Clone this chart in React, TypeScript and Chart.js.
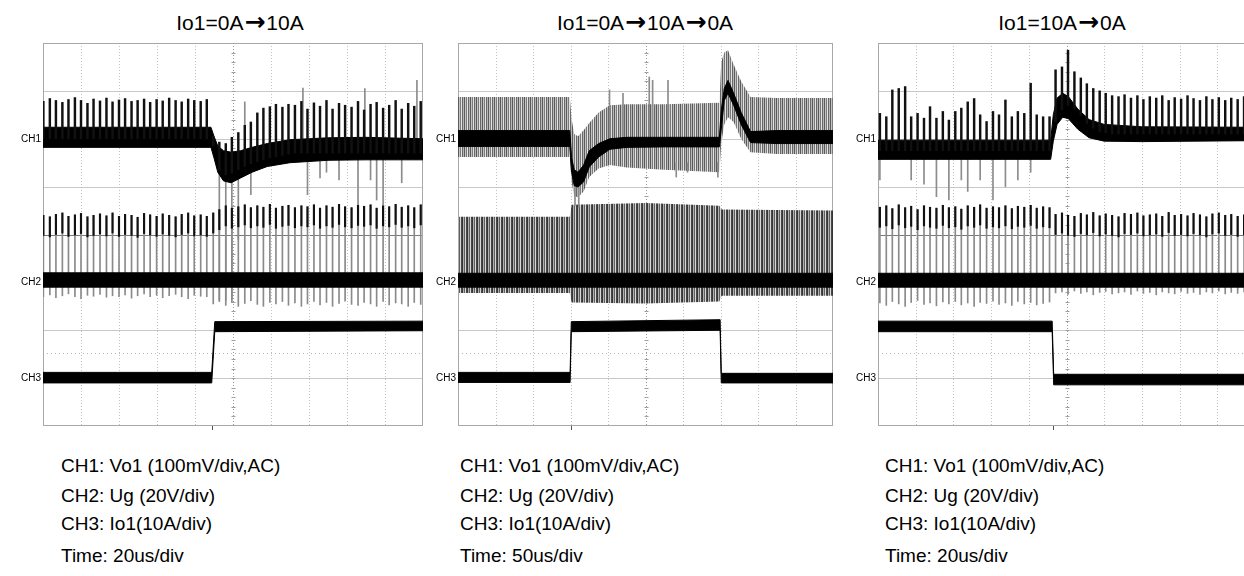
import React, { useEffect, useRef } from "react";
import { Chart, registerables } from "chart.js";

Chart.register(...registerables);

// ================= TEXT =================
const PANEL_TITLES = [["Io1=0A", "10A"], ["Io1=0A", "10A", "0A"], ["Io1=10A", "0A"]];
const CHANNEL_LABELS = ["CH1", "CH2", "CH3"];
const CHANNEL_ZERO_DIV = [6, 3, 1];
const CAPTION_LINES = ["CH1: Vo1 (100mV/div,AC)", "CH2: Ug (20V/div)", "CH3: Io1(10A/div)"];
const TIME_LINES = ["Time: 20us/div", "Time: 50us/div", "Time: 20us/div"];
const TRIGGER_X = [4.45, 3.0, 4.64];
const REF_LEVEL = 1.52;

// ================= PANEL 1 : 0A -> 10A (20us/div) =================
const P1_SWITCH_X = [
  0.01, 0.18, 0.34, 0.51, 0.67, 0.84, 1.0, 1.17, 1.33, 1.5,
  1.67, 1.83, 2.0, 2.16, 2.33, 2.49, 2.66, 2.82, 2.99, 3.15,
  3.32, 3.49, 3.65, 3.82, 3.98, 4.15, 4.31, 4.48, 4.64, 4.81,
  4.97, 5.14, 5.31, 5.47, 5.64, 5.8, 5.97, 6.13, 6.3, 6.46,
  6.63, 6.8, 6.96, 7.13, 7.29, 7.46, 7.62, 7.79, 7.95, 8.12,
  8.29, 8.45, 8.62, 8.78, 8.95, 9.11, 9.28, 9.44, 9.61, 9.77,
  9.94,
];
const P1_CH1_TOP = [
  6.78, 6.84, 6.8, 6.76, 6.82, 6.86, 6.8, 6.74, 6.83, 6.79,
  6.85, 6.77, 6.81, 6.84, 6.78, 6.8, 6.83, 6.76, 6.82, 6.79,
  6.85, 6.8, 6.77, 6.83, 6.8, 6.78, 6.82, 6.05, 5.93, 5.9,
  6.03, 6.13, 6.28, 6.35, 6.54, 6.64, 6.67, 6.72, 6.66, 6.72,
  6.7, 6.78, 6.62, 6.75, 6.68, 6.8, 6.62, 6.74, 6.7, 6.66,
  6.78, 6.6, 6.72, 6.76, 6.64, 6.7, 6.8, 6.62, 6.74, 6.68,
  6.78,
];
const P1_CH1_BASE = [
  6.0, 6.0, 6.0, 6.0, 6.0, 6.0, 6.0, 6.0, 6.0, 6.0,
  6.0, 6.0, 6.0, 6.0, 6.0, 6.0, 6.0, 6.0, 6.0, 6.0,
  6.0, 6.0, 6.0, 6.0, 6.0, 6.0, 6.0, 5.85, 5.35, 5.25,
  5.28, 5.35, 5.42, 5.48, 5.52, 5.56, 5.6, 5.62, 5.65, 5.68,
  5.7, 5.7, 5.7, 5.7, 5.7, 5.7, 5.7, 5.7, 5.7, 5.7,
  5.7, 5.7, 5.7, 5.7, 5.7, 5.7, 5.7, 5.7, 5.7, 5.7,
  5.7,
];
const P1_CH2_TOP = [
  4.4, 4.37, 4.42, 4.45, 4.38, 4.41, 4.44, 4.37, 4.4, 4.43,
  4.39, 4.45, 4.38, 4.42, 4.4, 4.36, 4.44, 4.41, 4.38, 4.43,
  4.4, 4.37, 4.42, 4.45, 4.39, 4.41, 4.38, 4.45, 4.52, 4.6,
  4.55, 4.58, 4.62, 4.56, 4.6, 4.57, 4.63, 4.55, 4.59, 4.61,
  4.56, 4.6, 4.58, 4.62, 4.55, 4.6, 4.57, 4.63, 4.58, 4.56,
  4.61, 4.59, 4.62, 4.55, 4.6, 4.58, 4.63, 4.57, 4.6, 4.56,
  4.62,
];
const P1_CH2_LOW = [
  2.7, 2.74, 2.68, 2.72, 2.76, 2.7, 2.66, 2.73, 2.71, 2.75,
  2.69, 2.72, 2.7, 2.74, 2.67, 2.72, 2.76, 2.7, 2.73, 2.68,
  2.72, 2.75, 2.7, 2.66, 2.73, 2.71, 2.7, 2.55, 2.6, 2.52,
  2.58, 2.5, 2.56, 2.62, 2.54, 2.5, 2.58, 2.55, 2.6, 2.52,
  2.57, 2.5, 2.55, 2.6, 2.53, 2.58, 2.5, 2.56, 2.61, 2.54,
  2.52, 2.58, 2.55, 2.5, 2.6, 2.53, 2.57, 2.55, 2.5, 2.58,
  2.54,
];
const P1_CH1_BAND_X = [0, 4.42, 4.5, 4.6, 4.75, 4.95, 5.2, 5.5, 5.9, 6.5, 7.5, 8.5, 10];
const P1_CH1_BAND_HI = [6.24, 6.24, 6.05, 5.85, 5.75, 5.72, 5.75, 5.82, 5.9, 5.98, 6.02, 6.03, 6.0];
const P1_CH1_BAND_LO = [5.82, 5.82, 5.6, 5.3, 5.12, 5.08, 5.18, 5.3, 5.42, 5.5, 5.55, 5.56, 5.56];
const P1_CH2_BAND_X = [0, 10];
const P1_CH2_BAND_HI = [3.2, 3.2];
const P1_CH2_BAND_LO = [2.9, 2.9];
const P1_CH3_BAND_X = [0, 4.44, 4.52, 10];
const P1_CH3_BAND_HI = [1.12, 1.12, 2.18, 2.19];
const P1_CH3_BAND_LO = [0.9, 0.9, 1.97, 1.99];
const P1_GRAY_LINES = [
  [4.64, 2.63, 5.3], [4.81, 2.63, 5.2], [4.97, 2.65, 5.3], [5.14, 3.9, 5.4],
  [5.31, 5.6, 6.77], [5.47, 4.83, 5.5], [6.84, 6.0, 7.06], [6.96, 4.83, 5.6],
  [7.29, 5.18, 5.6], [7.46, 5.3, 5.6], [7.79, 5.14, 5.6], [8.29, 4.62, 5.6],
  [8.47, 6.0, 7.05], [8.62, 5.14, 5.6], [8.78, 4.72, 5.6], [8.95, 4.62, 5.6],
  [9.44, 5.08, 5.6], [9.84, 6.0, 7.22],
];

// ================= PANEL 2 : 0A -> 10A -> 0A (50us/div) =================
const P2_CH1_X = [0, 2.98, 3.03, 3.1, 3.2, 3.35, 3.5, 3.75, 4.05, 4.5, 5.5, 6.97, 7.02, 7.1, 7.2, 7.35, 7.55, 7.8, 8.5, 10];
const P2_CH1_HI = [6.17, 6.17, 5.6, 5.35, 5.3, 5.45, 5.75, 5.9, 6.0, 6.03, 6.03, 6.03, 6.6, 7.05, 7.22, 6.95, 6.55, 6.15, 6.17, 6.17];
const P2_CH1_LO = [5.84, 5.84, 5.3, 5.02, 4.99, 5.1, 5.41, 5.62, 5.78, 5.82, 5.83, 5.83, 6.2, 6.8, 6.95, 6.7, 6.3, 5.92, 5.9, 5.9];
const P2_CH1_ENV_HI = [6.87, 6.87, 6.4, 6.1, 6.05, 6.18, 6.33, 6.55, 6.7, 6.72, 6.72, 6.75, 7.6, 7.8, 7.85, 7.55, 7.2, 6.87, 6.85, 6.85];
const P2_CH1_ENV_LO = [5.62, 5.62, 5.1, 4.8, 4.78, 4.9, 5.2, 5.38, 5.45, 5.4, 5.35, 5.3, 5.9, 6.3, 6.45, 6.35, 6.0, 5.72, 5.68, 5.68];
const P2_CH2_X = [0, 2.98, 3.03, 5.0, 6.97, 7.03, 10];
const P2_CH2_ENV_HI = [4.37, 4.37, 4.62, 4.66, 4.6, 4.52, 4.5];
const P2_CH2_ENV_LO = [2.78, 2.78, 2.58, 2.56, 2.6, 2.72, 2.72];
const P2_CH2_BAND_X = [0, 10];
const P2_CH2_BAND_HI = [3.19, 3.19];
const P2_CH2_BAND_LO = [2.9, 2.9];
const P2_CH3_X = [0, 2.99, 3.02, 6.99, 7.02, 10];
const P2_CH3_HI = [1.12, 1.12, 2.18, 2.22, 1.1, 1.1];
const P2_CH3_LO = [0.91, 0.91, 1.97, 2.0, 0.9, 0.9];
const P2_GRAY_LINES = [
  [3.12, 4.6, 5.0], [3.22, 4.57, 5.0], [4.04, 6.0, 7.02], [4.4, 6.0, 6.95],
  [5.1, 6.0, 7.29], [5.19, 6.0, 7.22], [5.6, 6.0, 7.22], [5.82, 5.2, 5.5],
  [6.12, 5.3, 5.5], [6.93, 5.2, 5.5],
];

// ================= PANEL 3 : 10A -> 0A (20us/div) =================
const P3_SWITCH_X = [
  0.05, 0.22, 0.38, 0.55, 0.72, 0.88, 1.05, 1.22, 1.38, 1.55,
  1.72, 1.88, 2.05, 2.21, 2.38, 2.55, 2.71, 2.88, 3.05, 3.21,
  3.38, 3.55, 3.71, 3.88, 4.05, 4.21, 4.38, 4.55, 4.71, 4.88,
  5.04, 5.21, 5.38, 5.54, 5.71, 5.88, 6.04, 6.21, 6.38, 6.54,
  6.71, 6.88, 7.04, 7.21, 7.38, 7.54, 7.71, 7.87, 8.04, 8.21,
  8.37, 8.54, 8.71, 8.87, 9.04, 9.21, 9.37, 9.54, 9.71,
];
const P3_CH1_TOP = [
  6.53, 6.46, 7.02, 7.05, 7.09, 6.46, 6.53, 6.43, 6.67, 6.43,
  6.57, 6.39, 6.57, 6.64, 6.77, 6.84, 6.5, 6.36, 6.57, 6.5,
  6.81, 6.46, 6.57, 6.53, 7.16, 6.5, 6.46, 6.46, 7.44, 7.5,
  7.85, 7.4, 7.27, 7.15, 7.05, 7.0, 6.95, 6.9, 6.88, 6.92,
  6.85, 6.9, 6.82, 6.88, 6.85, 6.9, 6.8, 6.86, 6.83, 6.9,
  6.84, 6.8, 6.88, 6.82, 6.86, 6.8, 6.85, 6.82, 6.88,
];
const P3_CH1_BASE = [
  5.75, 5.75, 5.75, 5.75, 5.75, 5.75, 5.75, 5.75, 5.75, 5.75,
  5.75, 5.75, 5.75, 5.75, 5.75, 5.75, 5.75, 5.75, 5.75, 5.75,
  5.75, 5.75, 5.75, 5.75, 5.75, 5.75, 5.75, 5.75, 6.35, 6.6,
  6.7, 6.62, 6.48, 6.32, 6.22, 6.15, 6.12, 6.1, 6.1, 6.1,
  6.1, 6.1, 6.1, 6.1, 6.1, 6.1, 6.1, 6.1, 6.1, 6.1,
  6.1, 6.1, 6.1, 6.1, 6.1, 6.1, 6.1, 6.1, 6.1,
];
const P3_CH2_TOP = [
  4.57, 4.6, 4.54, 4.62, 4.56, 4.59, 4.52, 4.6, 4.57, 4.55,
  4.61, 4.56, 4.58, 4.53, 4.6, 4.57, 4.62, 4.55, 4.58, 4.56,
  4.6, 4.54, 4.59, 4.57, 4.61, 4.55, 4.58, 4.56, 4.42, 4.45,
  4.4, 4.38, 4.44, 4.41, 4.46, 4.39, 4.43, 4.4, 4.37, 4.44,
  4.42, 4.45, 4.39, 4.41, 4.43, 4.38, 4.46, 4.4, 4.42, 4.39,
  4.44, 4.41, 4.37, 4.43, 4.45, 4.4, 4.42, 4.38, 4.41,
];
const P3_CH2_LOW = [
  2.57, 2.52, 2.6, 2.55, 2.5, 2.58, 2.62, 2.54, 2.57, 2.51,
  2.59, 2.55, 2.6, 2.53, 2.57, 2.5, 2.58, 2.56, 2.61, 2.54,
  2.57, 2.52, 2.6, 2.55, 2.58, 2.53, 2.56, 2.59, 2.78, 2.8,
  2.75, 2.82, 2.77, 2.8, 2.74, 2.79, 2.81, 2.76, 2.78, 2.8,
  2.75, 2.82, 2.77, 2.79, 2.74, 2.8, 2.78, 2.76, 2.81, 2.77,
  2.79, 2.75, 2.8, 2.78, 2.82, 2.76, 2.79, 2.77, 2.8,
];
const P3_CH1_BAND_X = [0, 4.58, 4.65, 4.75, 4.9, 5.05, 5.3, 5.6, 6.0, 7.0, 10];
const P3_CH1_BAND_HI = [5.97, 5.97, 6.5, 6.85, 6.95, 6.88, 6.62, 6.4, 6.3, 6.25, 6.24];
const P3_CH1_BAND_LO = [5.57, 5.57, 5.95, 6.3, 6.45, 6.42, 6.2, 6.02, 5.95, 5.94, 5.96];
const P3_CH2_BAND_X = [0, 10];
const P3_CH2_BAND_HI = [3.19, 3.19];
const P3_CH2_BAND_LO = [2.9, 2.9];
const P3_CH3_BAND_X = [0, 4.62, 4.66, 10];
const P3_CH3_BAND_HI = [2.19, 2.19, 1.08, 1.08];
const P3_CH3_BAND_LO = [1.97, 1.97, 0.86, 0.86];
const P3_GRAY_LINES = [
  [0.05, 5.14, 5.7], [0.88, 5.14, 5.7], [1.22, 5.05, 5.7], [1.55, 4.79, 5.7],
  [1.88, 4.72, 5.7], [2.21, 5.14, 5.7], [2.38, 4.9, 5.7], [2.71, 5.14, 5.7],
  [3.05, 4.72, 5.7], [3.38, 5.0, 5.7], [3.71, 5.14, 5.7], [4.05, 5.3, 5.7],
];

// ================= LAYOUT (pixels) =================
const AREA_TOP = 43;
const AREA_H = 383;
const PANEL_LEFT = [43, 458, 878];
const PANEL_W = [380, 375, 377];
const TITLE_CX = [240, 645, 1062];
const CAPTION_LEFT = [61, 460, 885];
const CAPTION_Y = [466, 496, 524, 556];
const PAD = 6;
const GATE_CAP = 0.42;

type Band = { x: number[]; hi: number[]; lo: number[]; style: "black" | "hatchA" | "hatchB" };
type Spec = {
  bands: Band[];
  sw?: { x: number[]; ch1Top: number[]; ch1Base: number[]; ch2Top: number[]; ch2Low: number[] };
  gray: number[][];
  trigger: number;
};

const SPECS: Spec[] = [
  {
    bands: [
      { x: P1_CH1_BAND_X, hi: P1_CH1_BAND_HI, lo: P1_CH1_BAND_LO, style: "black" },
      { x: P1_CH2_BAND_X, hi: P1_CH2_BAND_HI, lo: P1_CH2_BAND_LO, style: "black" },
      { x: P1_CH3_BAND_X, hi: P1_CH3_BAND_HI, lo: P1_CH3_BAND_LO, style: "black" },
    ],
    sw: { x: P1_SWITCH_X, ch1Top: P1_CH1_TOP, ch1Base: P1_CH1_BASE, ch2Top: P1_CH2_TOP, ch2Low: P1_CH2_LOW },
    gray: P1_GRAY_LINES,
    trigger: TRIGGER_X[0],
  },
  {
    bands: [
      { x: P2_CH1_X, hi: P2_CH1_ENV_HI, lo: P2_CH1_ENV_LO, style: "hatchA" },
      { x: P2_CH2_X, hi: P2_CH2_ENV_HI, lo: P2_CH2_ENV_LO, style: "hatchB" },
      { x: P2_CH1_X, hi: P2_CH1_HI, lo: P2_CH1_LO, style: "black" },
      { x: P2_CH2_BAND_X, hi: P2_CH2_BAND_HI, lo: P2_CH2_BAND_LO, style: "black" },
      { x: P2_CH3_X, hi: P2_CH3_HI, lo: P2_CH3_LO, style: "black" },
    ],
    gray: P2_GRAY_LINES,
    trigger: TRIGGER_X[1],
  },
  {
    bands: [
      { x: P3_CH1_BAND_X, hi: P3_CH1_BAND_HI, lo: P3_CH1_BAND_LO, style: "black" },
      { x: P3_CH2_BAND_X, hi: P3_CH2_BAND_HI, lo: P3_CH2_BAND_LO, style: "black" },
      { x: P3_CH3_BAND_X, hi: P3_CH3_BAND_HI, lo: P3_CH3_BAND_LO, style: "black" },
    ],
    sw: { x: P3_SWITCH_X, ch1Top: P3_CH1_TOP, ch1Base: P3_CH1_BASE, ch2Top: P3_CH2_TOP, ch2Low: P3_CH2_LOW },
    gray: P3_GRAY_LINES,
    trigger: TRIGGER_X[2],
  },
];

function makePattern(cols: string[]) {
  const c = document.createElement("canvas");
  c.width = cols.length;
  c.height = 1;
  const g = c.getContext("2d")!;
  cols.forEach((col, i) => {
    g.fillStyle = col;
    g.fillRect(i, 0, 1, 1);
  });
  return g.createPattern(c, "repeat")!;
}

const scopeGrid = {
  id: "scopeGrid",
  beforeDatasetsDraw(chart: any, _args: any, opts: any) {
    const { ctx, chartArea: a } = chart;
    const xs = chart.scales.x;
    const ys = chart.scales.y;
    const X = (v: number) => Math.round(xs.getPixelForValue(v)) + 0.5;
    const Y = (v: number) => Math.round(ys.getPixelForValue(v)) + 0.5;
    ctx.save();
    ctx.lineWidth = 1;
    ctx.setLineDash([]);
    for (let j = 1; j < 8; j++) {
      ctx.strokeStyle = j === 4 ? "#7a7a7a" : "#c8c8c8";
      ctx.beginPath();
      ctx.moveTo(a.left, Y(j));
      ctx.lineTo(a.right, Y(j));
      ctx.stroke();
    }
    ctx.setLineDash([1, 2]);
    for (let i = 1; i < 10; i++) {
      ctx.strokeStyle = i === 5 ? "#999999" : "#c2c2c2";
      ctx.beginPath();
      ctx.moveTo(X(i), a.top);
      ctx.lineTo(X(i), a.bottom);
      ctx.stroke();
    }
    ctx.setLineDash([1, 3]);
    ctx.strokeStyle = "#b4b4b4";
    ctx.beginPath();
    ctx.moveTo(a.left, Y(REF_LEVEL));
    ctx.lineTo(a.right, Y(REF_LEVEL));
    ctx.stroke();
    ctx.setLineDash([]);
    ctx.strokeStyle = "#a0a0a0";
    for (let t = 1; t < 40; t++) {
      const py = Y(t * 0.2);
      ctx.beginPath();
      ctx.moveTo(X(5) - 2, py);
      ctx.lineTo(X(5) + 2, py);
      ctx.stroke();
    }
    ctx.strokeStyle = "#a8a8a8";
    const l = Math.round(a.left) + 0.5;
    const t0 = Math.round(a.top) + 0.5;
    ctx.strokeRect(l, t0, Math.round(a.right) - Math.round(a.left) - 1, Math.round(a.bottom) - Math.round(a.top) - 1);
    ctx.strokeStyle = "#555555";
    ctx.beginPath();
    ctx.moveTo(X(opts.trigger), a.bottom);
    ctx.lineTo(X(opts.trigger), a.bottom + 4);
    ctx.stroke();
    ctx.restore();
  },
};

function finite(v: any) {
  return v.y.every((n: number) => Number.isFinite(n)) && Number.isFinite(v.x);
}

function buildDatasets(spec: Spec, patterns: Record<string, any>) {
  const ds: any[] = [];
  let order = 300;
  spec.bands.forEach((b) => {
    const isBlack = b.style === "black";
    const fillColor = isBlack ? "#000000" : patterns[b.style];
    // higher order = drawn earlier (behind): hatch envelopes go behind black cores
    const base = isBlack ? 0 : 200;
    ds.push({
      type: "line",
      data: b.x.map((x, i) => ({ x, y: b.lo[i] })),
      borderColor: isBlack ? "#000000" : "rgba(0,0,0,0)",
      borderWidth: 1,
      pointRadius: 0,
      fill: false,
      order: order + base,
    });
    ds.push({
      type: "line",
      data: b.x.map((x, i) => ({ x, y: b.hi[i] })),
      borderColor: isBlack ? "#000000" : "rgba(0,0,0,0)",
      borderWidth: 1,
      pointRadius: 0,
      fill: "-1",
      backgroundColor: fillColor,
      order: order + base - 1,
    });
    order -= 2;
  });
  const bar = (data: any[], color: string, thickness: number, ord: number) => ({
    type: "bar",
    data: data.filter(finite),
    backgroundColor: color,
    borderWidth: 0,
    barThickness: thickness,
    grouped: false,
    order: ord,
  });
  ds.push(bar(spec.gray.map(([x, lo, hi]) => ({ x, y: [lo, hi] })), "#8c8c8c", 1, 450));
  if (spec.sw) {
    const s = spec.sw;
    ds.push(bar(s.x.map((x, i) => ({ x, y: [s.ch2Low[i], s.ch2Top[i]] })), "#8a8a8a", 1, 440));
    ds.push(bar(s.x.map((x, i) => ({ x, y: [s.ch2Top[i] - GATE_CAP, s.ch2Top[i]] })), "#111111", 1.5, 10));
    ds.push(bar(s.x.map((x, i) => ({ x, y: [s.ch1Base[i], s.ch1Top[i]] })), "#111111", 1.8, 11));
  }
  return ds;
}

function Title({ parts }: { parts: string[] }) {
  const out: React.ReactNode[] = [];
  parts.forEach((p, i) => {
    if (i > 0)
      out.push(
        <span
          key={"a" + i}
          style={{ fontFamily: '"DejaVu Sans", sans-serif', fontWeight: "bold", fontSize: 25, lineHeight: "24px", margin: "0 1px" }}
        >
          →
        </span>
      );
    out.push(<span key={"t" + i}>{p}</span>);
  });
  return <>{out}</>;
}

function ScopePanel({ idx }: { idx: number }) {
  const ref = useRef<HTMLCanvasElement>(null);
  const w = PANEL_W[idx] + PAD * 2;
  const h = AREA_H + PAD * 2;
  useEffect(() => {
    const canvas = ref.current!;
    const patterns = {
      hatchA: makePattern(["#5a5a5a", "#c4c4c4", "#7a7a7a", "#e2e2e2", "#686868", "#b8b8b8"]),
      hatchB: makePattern(["#363636", "#b0b0b0", "#5e5e5e", "#d8d8d8", "#484848"]),
    };
    const chart = new Chart(canvas, {
      type: "line",
      data: { datasets: buildDatasets(SPECS[idx], patterns) },
      options: {
        animation: false,
        responsive: false,
        maintainAspectRatio: false,
        events: [],
        layout: { padding: PAD },
        plugins: {
          legend: { display: false },
          tooltip: { enabled: false },
          scopeGrid: { trigger: SPECS[idx].trigger },
        } as any,
        scales: {
          x: { type: "linear", min: 0, max: 10, display: false, offset: false },
          y: { type: "linear", min: 0, max: 8, display: false },
        },
        elements: { point: { radius: 0 }, line: { tension: 0 } },
      },
      plugins: [scopeGrid as any],
    });
    return () => chart.destroy();
  }, [idx]);

  const left = PANEL_LEFT[idx];
  const divH = AREA_H / 8;
  return (
    <>
      <canvas
        ref={ref}
        width={w}
        height={h}
        style={{ position: "absolute", left: left - PAD, top: AREA_TOP - PAD, width: w, height: h }}
      />
      <div
        style={{
          position: "absolute",
          left: TITLE_CX[idx] - 160,
          width: 320,
          top: 10,
          textAlign: "center",
          fontSize: 21,
          lineHeight: "24px",
          whiteSpace: "nowrap",
        }}
      >
        <Title parts={PANEL_TITLES[idx]} />
      </div>
      {CHANNEL_LABELS.map((lab, i) => (
        <div
          key={lab}
          style={{
            position: "absolute",
            left: left - 42,
            width: 40,
            top: AREA_TOP + (8 - CHANNEL_ZERO_DIV[i]) * divH - 6,
            textAlign: "right",
            fontSize: 10,
            lineHeight: "12px",
          }}
        >
          {lab}
        </div>
      ))}
      {[...CAPTION_LINES, TIME_LINES[idx]].map((line, i) => (
        <div
          key={i}
          style={{
            position: "absolute",
            left: CAPTION_LEFT[idx],
            top: CAPTION_Y[i] - 11,
            fontSize: 19,
            lineHeight: "22px",
            whiteSpace: "nowrap",
          }}
        >
          {line}
        </div>
      ))}
    </>
  );
}

export default function App() {
  return (
    <div
      style={{
        position: "absolute",
        left: 0,
        top: 0,
        width: 1244,
        height: 576,
        overflow: "hidden",
        background: "#ffffff",
        color: "#000000",
        fontFamily: '"Liberation Sans", Arial, Helvetica, sans-serif',
      }}
    >
      {[0, 1, 2].map((i) => (
        <ScopePanel key={i} idx={i} />
      ))}
    </div>
  );
}
